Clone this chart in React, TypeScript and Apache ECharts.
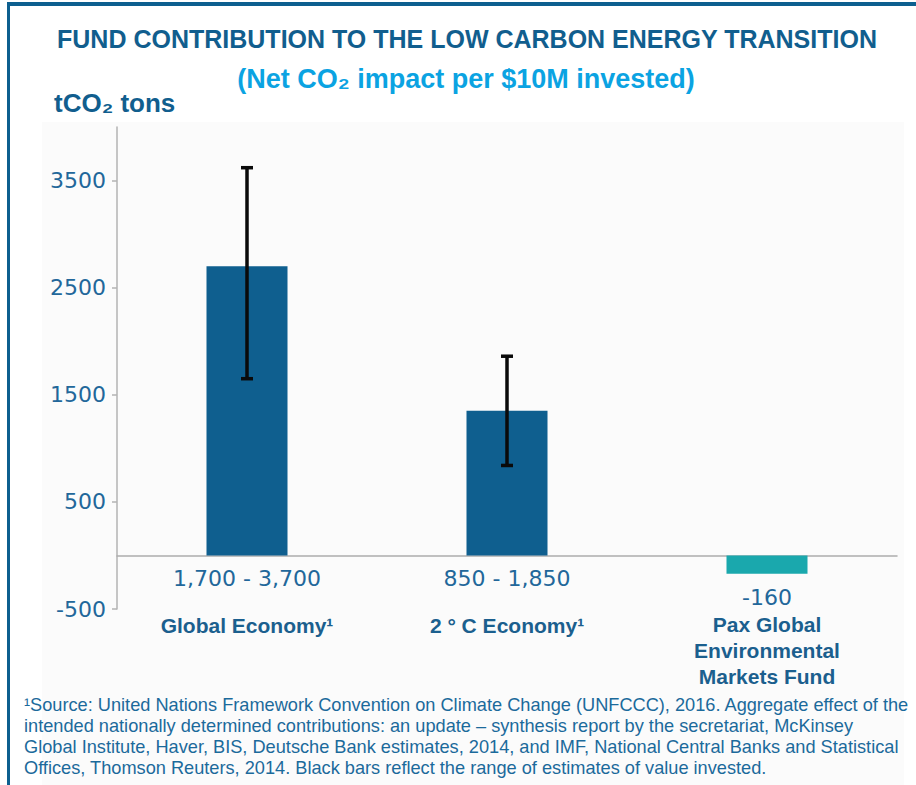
import React, { useEffect, useRef } from 'react';
import * as echarts from 'echarts';

// ---- data ----
const categories = ['Global Economy¹', '2 ° C Economy¹', 'Pax Global\nEnvironmental\nMarkets Fund'];
const barValues = [2700, 1350, -170];
const errCategoryIdx = [0, 1];
const errLow = [1650, 840];
const errHigh = [3620, 1860];
const rangeLabels = ['1,700 - 3,700', '850 - 1,850', '-160'];
const yTicks = [-500, 500, 1500, 2500, 3500];
const titleText = 'FUND CONTRIBUTION TO THE LOW CARBON ENERGY TRANSITION';
const subtitleText = '(Net CO₂ impact per $10M invested)';
const yAxisTitle = 'tCO₂ tons';
const footnoteLines = [
  '¹Source: United Nations Framework Convention on Climate Change (UNFCCC), 2016. Aggregate effect of the',
  'intended nationally determined contributions: an update – synthesis report by the secretariat, McKinsey',
  'Global Institute, Haver, BIS, Deutsche Bank estimates, 2014, and IMF, National Central Banks and Statistical',
  'Offices, Thomson Reuters, 2014. Black bars reflect the range of estimates of value invested.',
];

const DARK = '#115e8e';
const BAR = '#0f5f8f';
const TEAL = '#1aa8ad';
const LABEL = '#22679a';
const SANS = '"Liberation Sans", Arial, sans-serif';
const WIDE = '"DejaVu Sans", Verdana, sans-serif';

export default function App() {
  const ref = useRef<HTMLDivElement>(null);
  useEffect(() => {
    if (!ref.current) return;
    const chart = echarts.init(ref.current, null, { renderer: 'svg' });
    const errData = errCategoryIdx.map((c, i) => [c, errLow[i], errHigh[i]]);
    chart.setOption({
      animation: false,
      backgroundColor: '#ffffff',
      grid: { left: 117, right: 19, top: 127, bottom: 176, containLabel: false },
      xAxis: {
        type: 'category',
        data: categories,
        axisLine: { show: true, onZero: true, lineStyle: { color: '#adadad', width: 1.5 } },
        axisTick: { show: false },
        axisLabel: {
          interval: 0,
          margin: -47.5,
          hideOverlap: false,
          formatter: (val: string, idx: number) => {
            const names = val.split('\n').map((s) => `{n|${s}}`).join('\n');
            if (barValues[idx] < 0) return `{s2|\u00a0}\n{rn|${rangeLabels[idx]}}\n${names}`;
            return `{r|${rangeLabels[idx]}}\n{s|\u00a0}\n${names}`;
          },
          rich: {
            r: { fontFamily: WIDE, fontSize: 22, lineHeight: 33, color: LABEL },
            rn: { fontFamily: WIDE, fontSize: 22, lineHeight: 28, color: LABEL },
            s: { fontSize: 10, lineHeight: 18 },
            s2: { fontSize: 10, lineHeight: 22 },
            n: { fontFamily: SANS, fontWeight: 'bold', fontSize: 21, lineHeight: 26, color: '#1b5f8e' },
          },
        },
      },
      yAxis: {
        type: 'value',
        min: -500,
        max: 4000,
        interval: 1000,
        splitLine: { show: false },
        axisLine: { show: true, lineStyle: { color: '#b3b3b3', width: 1.5 } },
        axisTick: { show: true, length: 5, customValues: yTicks, lineStyle: { color: '#b3b3b3', width: 1.5 } },
        axisLabel: {
          customValues: yTicks,
          margin: 11,
          fontFamily: WIDE,
          fontSize: 22,
          color: LABEL,
          formatter: (v: number) => String(v),
        },
      },
      series: [
        {
          type: 'bar',
          data: barValues,
          barWidth: 81,
          itemStyle: {
            color: (p: any) => (p.value < 0 ? TEAL : BAR),
          },
        },
        {
          type: 'custom',
          data: errData,
          z: 10,
          renderItem: (params: any, api: any) => {
            const c = api.value(0);
            const lo = api.coord([c, api.value(1)]);
            const hi = api.coord([c, api.value(2)]);
            const hw = 6;
            const style = { stroke: '#0a0a0a', lineWidth: 3.5 };
            return {
              type: 'group',
              children: [
                { type: 'line', shape: { x1: lo[0], y1: lo[1], x2: hi[0], y2: hi[1] }, style },
                { type: 'line', shape: { x1: lo[0] - hw, y1: lo[1], x2: lo[0] + hw, y2: lo[1] }, style },
                { type: 'line', shape: { x1: hi[0] - hw, y1: hi[1], x2: hi[0] + hw, y2: hi[1] }, style },
              ],
            };
          },
        },
      ],
      graphic: [
        { type: 'rect', z: -10, shape: { x: 42, y: 122, width: 862, height: 663 }, style: { fill: '#fbfbfb' } },
        { type: 'rect', shape: { x: 7, y: 2, width: 909, height: 4 }, style: { fill: '#0d5f8f' } },
        { type: 'rect', shape: { x: 7, y: 2, width: 3, height: 783 }, style: { fill: '#0d5f8f' } },
        {
          type: 'text',
          x: 467,
          y: 39,
          style: {
            text: titleText,
            fill: DARK,
            font: `bold 25px ${SANS}`,
            textAlign: 'center',
            textVerticalAlign: 'middle',
          },
        },
        {
          type: 'text',
          x: 466,
          y: 79,
          style: {
            text: subtitleText,
            fill: '#0ba3e2',
            font: `bold 27px ${SANS}`,
            textAlign: 'center',
            textVerticalAlign: 'middle',
          },
        },
        {
          type: 'text',
          x: 54,
          y: 103,
          style: {
            text: yAxisTitle,
            fill: DARK,
            font: `bold 26px ${SANS}`,
            textAlign: 'left',
            textVerticalAlign: 'middle',
          },
        },
        {
          type: 'text',
          x: 24,
          y: 694,
          style: {
            text: footnoteLines.join('\n'),
            fill: '#1b6a9b',
            font: `18.2px ${SANS}`,
            lineHeight: 21,
            textAlign: 'left',
            textVerticalAlign: 'top',
          },
        },
      ],
    });
    return () => chart.dispose();
  }, []);
  return <div ref={ref} style={{ position: 'fixed', left: 0, top: 0, width: 916, height: 785 }} />;
}
